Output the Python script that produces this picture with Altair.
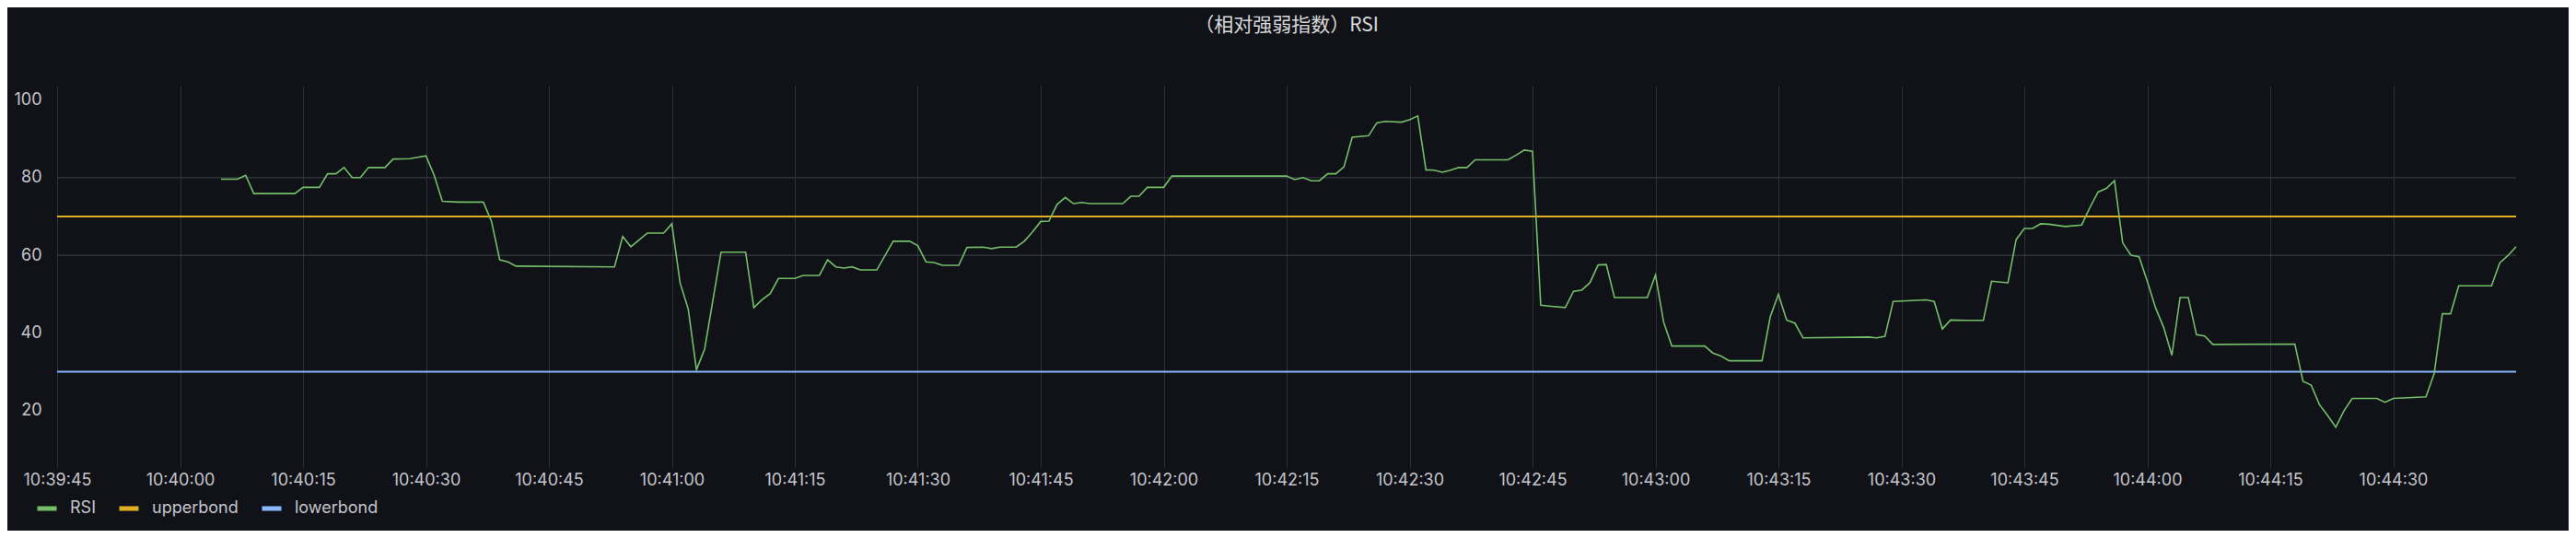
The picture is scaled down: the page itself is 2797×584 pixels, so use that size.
import altair as alt
import pandas as pd

# ---------------- data ----------------
BASE_DATE = "2023-01-01"

rsi_times = [
    "10:40:05", "10:40:07", "10:40:08", "10:40:09", "10:40:14", "10:40:15", "10:40:17",
    "10:40:18", "10:40:19", "10:40:20", "10:40:21", "10:40:22", "10:40:23", "10:40:25",
    "10:40:26", "10:40:28", "10:40:30", "10:40:31", "10:40:32", "10:40:34", "10:40:37",
    "10:40:38", "10:40:39", "10:40:40", "10:40:41", "10:40:53", "10:40:54", "10:40:55",
    "10:40:57", "10:40:59", "10:41:00", "10:41:01", "10:41:02", "10:41:03", "10:41:04",
    "10:41:06", "10:41:09", "10:41:10", "10:41:11", "10:41:12", "10:41:13", "10:41:15",
    "10:41:16", "10:41:18", "10:41:19", "10:41:20", "10:41:21", "10:41:22", "10:41:23",
    "10:41:25", "10:41:27", "10:41:29", "10:41:30", "10:41:31", "10:41:32", "10:41:33",
    "10:41:35", "10:41:36", "10:41:38", "10:41:39", "10:41:40", "10:41:42", "10:41:43",
    "10:41:44", "10:41:45", "10:41:46", "10:41:47", "10:41:48", "10:41:49", "10:41:50",
    "10:41:51", "10:41:55", "10:41:56", "10:41:57", "10:41:58", "10:42:00", "10:42:01",
    "10:42:15", "10:42:16", "10:42:17", "10:42:18", "10:42:19", "10:42:20", "10:42:21",
    "10:42:22", "10:42:23", "10:42:25", "10:42:26", "10:42:27", "10:42:29", "10:42:30",
    "10:42:31", "10:42:32", "10:42:33", "10:42:34", "10:42:35", "10:42:36", "10:42:37",
    "10:42:38", "10:42:42", "10:42:43", "10:42:44", "10:42:45", "10:42:46", "10:42:47",
    "10:42:49", "10:42:50", "10:42:51", "10:42:52", "10:42:53", "10:42:54", "10:42:55",
    "10:42:59", "10:43:00", "10:43:01", "10:43:02", "10:43:06", "10:43:07", "10:43:08",
    "10:43:09", "10:43:13", "10:43:14", "10:43:15", "10:43:16", "10:43:17", "10:43:18",
    "10:43:26", "10:43:27", "10:43:28", "10:43:29", "10:43:33", "10:43:34", "10:43:35",
    "10:43:36", "10:43:38", "10:43:40", "10:43:41", "10:43:43", "10:43:44", "10:43:45",
    "10:43:46", "10:43:47", "10:43:48", "10:43:50", "10:43:52", "10:43:53", "10:43:54",
    "10:43:55", "10:43:56", "10:43:57", "10:43:58", "10:43:59", "10:44:00", "10:44:01",
    "10:44:02", "10:44:03", "10:44:04", "10:44:05", "10:44:06", "10:44:07", "10:44:08",
    "10:44:18", "10:44:19", "10:44:20", "10:44:21", "10:44:22", "10:44:23", "10:44:24",
    "10:44:25", "10:44:28", "10:44:29", "10:44:30", "10:44:34", "10:44:35", "10:44:36",
    "10:44:37", "10:44:38", "10:44:42", "10:44:43", "10:44:44", "10:44:45",
]
rsi_values = [
    79.6, 79.6, 80.6, 75.9, 75.9, 77.5, 77.5,
    81.0, 81.0, 82.6, 80.0, 80.0, 82.6, 82.6,
    84.8, 84.9, 85.6, 80.6, 73.9, 73.7, 73.7,
    68.7, 58.8, 58.3, 57.2, 57.0, 64.8, 62.2,
    65.7, 65.7, 68.1, 52.9, 46.1, 30.5, 35.8,
    60.8, 60.8, 46.5, 48.5, 50.1, 54.0, 54.0,
    54.8, 54.8, 58.8, 57.0, 56.7, 57.0, 56.2,
    56.2, 63.6, 63.6, 62.5, 58.3, 58.1, 57.4,
    57.4, 62.0, 62.1, 61.7, 62.1, 62.1, 63.6,
    66.0, 68.7, 68.8, 73.1, 74.9, 73.3, 73.6,
    73.3, 73.3, 75.2, 75.2, 77.5, 77.5, 80.4,
    80.4, 79.5, 80.0, 79.2, 79.2, 81.0, 81.0,
    82.8, 90.4, 90.8, 94.1, 94.5, 94.3, 94.9,
    95.9, 82.0, 81.9, 81.4, 81.9, 82.6, 82.6,
    84.6, 84.6, 85.8, 87.1, 86.8, 47.1, 46.9,
    46.5, 50.7, 51.0, 52.9, 57.5, 57.6, 49.1,
    49.1, 54.9, 42.7, 36.6, 36.6, 34.8, 34.0,
    32.8, 32.8, 44.1, 49.9, 43.3, 42.5, 38.7,
    38.9, 38.7, 39.1, 48.1, 48.5, 48.1, 41.0,
    43.3, 43.2, 43.2, 53.3, 52.9, 64.0, 66.9,
    66.9, 68.1, 68.0, 67.4, 67.8, 72.3, 76.3,
    77.2, 79.2, 63.2, 60.0, 59.6, 53.3, 46.5,
    41.4, 34.2, 49.1, 49.1, 39.5, 39.2, 37.0,
    37.1, 27.5, 26.5, 21.5, 18.7, 15.7, 19.9,
    23.1, 23.1, 22.1, 23.1, 23.5, 29.5, 44.9,
    44.9, 52.1, 52.1, 58.0, 59.9, 62.2,
]

band_times = ["10:39:45", "10:44:45"]
upperbond_value = 70
lowerbond_value = 30

series_names = ["RSI", "upperbond", "lowerbond"]
series_colors = ["#73BF69", "#E3AE22", "#8AB8FF"]

x_tick_times = [
    "10:39:45", "10:40:00", "10:40:15", "10:40:30", "10:40:45", "10:41:00", "10:41:15",
    "10:41:30", "10:41:45", "10:42:00", "10:42:15", "10:42:30", "10:42:45", "10:43:00",
    "10:43:15", "10:43:30", "10:43:45", "10:44:00", "10:44:15", "10:44:30",
]
x_domain_times = ["10:39:45", "10:44:45"]
y_tick_values = [20, 40, 60, 80, 100]
y_domain = [5.4, 103.7]
grid_y_values = [60, 80]

title_text = "（相对强弱指数）RSI"

# ---------------- build tables ----------------
def ts(t):
    return pd.Timestamp(f"{BASE_DATE} {t}")

def dt(t):
    h, m, s = (int(p) for p in t.split(":"))
    y, mo, d = (int(p) for p in BASE_DATE.split("-"))
    return alt.DateTime(year=y, month=mo, date=d, hours=h, minutes=m, seconds=s)

rsi_df = pd.DataFrame({
    "time": [ts(t) for t in rsi_times],
    "value": rsi_values,
    "series": "RSI",
})
band_df = pd.DataFrame({
    "time": [ts(t) for t in band_times] * 2,
    "value": [upperbond_value] * len(band_times) + [lowerbond_value] * len(band_times),
    "series": ["upperbond"] * len(band_times) + ["lowerbond"] * len(band_times),
})
grid_df = pd.DataFrame({"value": grid_y_values})

GRID_H = "#363845"
GRID_V = "#2e3039"
LABEL = "#c4c5cc"
FONT = "Inter"

x_scale = alt.Scale(domain=[dt(t) for t in x_domain_times], nice=False)
y_scale = alt.Scale(domain=y_domain, nice=False, zero=False)
color_scale = alt.Scale(domain=series_names, range=series_colors)

y_axis = alt.Axis(
    values=y_tick_values,
    title=None,
    grid=False,
    domain=False,
    ticks=False,
    labelColor=LABEL,
    labelFont=FONT,
    labelFontSize=18,
    labelPadding=17,
)

x_enc = alt.X(
    "time:T",
    scale=x_scale,
    axis=alt.Axis(
        values=[dt(t) for t in x_tick_times],
        format="%H:%M:%S",
        title=None,
        grid=True,
        gridColor=GRID_V,
        gridWidth=1,
        domain=False,
        ticks=False,
        labelFlush=False,
        labelOverlap=False,
        labelColor=LABEL,
        labelFont=FONT,
        labelFontSize=18,
        labelPadding=5,
    ),
)
y_enc = alt.Y("value:Q", scale=y_scale, axis=y_axis)
color_enc = alt.Color(
    "series:N",
    scale=color_scale,
    sort=series_names,
    legend=alt.Legend(
        orient="none",
        legendX=-24,
        legendY=446,
        direction="horizontal",
        title=None,
        padding=0,
        symbolType="stroke",
        symbolSize=441,
        symbolStrokeWidth=5,
        labelFont=FONT,
        labelFontSize=18,
        labelColor=LABEL,
        labelOffset=12,
        columnPadding=15,
    ),
)

grid_rules = alt.Chart(grid_df).mark_rule(color=GRID_H, strokeWidth=1.2).encode(
    y=alt.Y("value:Q", scale=y_scale, axis=y_axis)
)
bands = alt.Chart(band_df).mark_line(strokeWidth=2).encode(
    x=x_enc, y=y_enc, color=color_enc, detail="series:N"
)
rsi = alt.Chart(rsi_df).mark_line(strokeWidth=1.6).encode(
    x=x_enc, y=y_enc, color=color_enc
)

chart = (
    alt.layer(grid_rules, bands, rsi)
    .properties(
        width=2670,
        height=414,
        padding={"left": 54, "top": 85, "right": 57, "bottom": 69},
        autosize=alt.AutoSizeParams(type="none"),
        background="#111217",
        title=alt.TitleParams(
            text=title_text,
            font="Noto Sans CJK SC",
            fontSize=21,
            fontWeight="normal",
            color="#d8d9da",
            anchor="middle",
            offset=55,
        ),
    )
    .configure_view(strokeWidth=0)
)

chart.save("out.html", embed_options={"renderer": "svg", "actions": False})
